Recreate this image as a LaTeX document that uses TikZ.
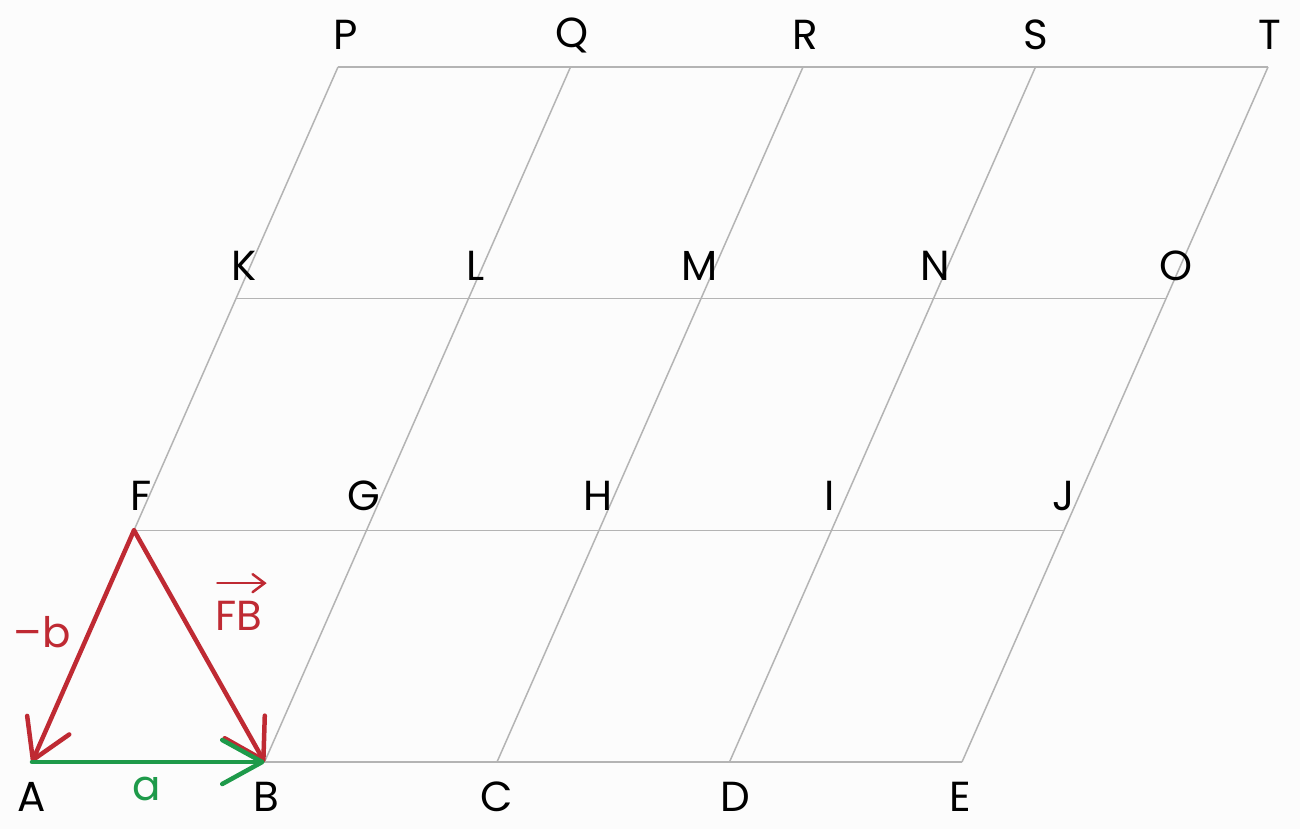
\documentclass[tikz,border=0pt]{standalone}
\usepackage{fontspec}
\setmainfont{Poppins}
\usetikzlibrary{arrows.meta}
\definecolor{bg}{HTML}{FCFCFC}
\definecolor{gridc}{HTML}{B4B4B4}
\definecolor{vred}{HTML}{BF2A33}
\definecolor{vgreen}{HTML}{1E9A4A}
\tikzset{
  gridline/.style={draw=gridc, line width=1.5pt},
  vec/.style={line width=4.5pt, line cap=round, line join=round},
  lbl/.style={inner sep=0pt, font=\fontsize{42}{48}\selectfont},
}
\begin{document}
\begin{tikzpicture}[x=1pt,y=-1pt]
\fill[bg] (0,0) rectangle (1300,829);
\useasboundingbox (0,0) rectangle (1300,829);
% grid points
\coordinate (A) at (32,762);   \coordinate (B) at (264.5,762); \coordinate (C) at (497,762);   \coordinate (D) at (729.5,762); \coordinate (E) at (962,762);
\coordinate (F) at (134,530.3);\coordinate (G) at (366.5,530.3);\coordinate (H) at (599,530.3);\coordinate (I) at (831.5,530.3);\coordinate (J) at (1064,530.3);
\coordinate (K) at (236,298.6);\coordinate (L) at (468.5,298.6);\coordinate (M) at (701,298.6);\coordinate (N) at (933.5,298.6);\coordinate (O) at (1166,298.6);
\coordinate (P) at (338,67);   \coordinate (Q) at (570.5,67);  \coordinate (R) at (803,67);   \coordinate (S) at (1035.5,67); \coordinate (T) at (1268,67);
% grid lines
\draw[gridline] (A) -- (E);
\draw[gridline] (F) -- (J);
\draw[gridline] (K) -- (O);
\draw[gridline] (P) -- (T);
\draw[gridline] (A) -- (F) -- (K) -- (P);
\draw[gridline] (B) -- (G) -- (L) -- (Q);
\draw[gridline] (C) -- (H) -- (M) -- (R);
\draw[gridline] (D) -- (I) -- (N) -- (S);
\draw[gridline] (E) -- (J) -- (O) -- (T);
% vectors
\draw[vec, vred, -{Straight Barb[length=38pt,width=46pt,line cap=round,line join=round]}] (F) -- (A);
\draw[vec, vred, -{Straight Barb[length=38pt,width=46pt,line cap=round,line join=round]}] (F) -- (B);
\draw[vec, vgreen, -{Straight Barb[length=40pt,width=44pt,line cap=round,line join=round]}] (A) -- (B);
% point labels
\node[lbl] (lP) at (346,35) {P};
\node[lbl] (lQ) at (572,35) {Q};
\node[lbl] (lR) at (805,35) {R};
\node[lbl] (lS) at (1036,35) {S};
\node[lbl] (lT) at (1270,35) {T};
\node[lbl] (lK) at (244,266) {K};
\node[lbl] (lL) at (476,266) {L};
\node[lbl] (lM) at (700,266) {M};
\node[lbl] (lN) at (935,266) {N};
\node[lbl] (lO) at (1176,266) {O};
\node[lbl] (lF) at (141,496) {F};
\node[lbl] (lG) at (364,496) {G};
\node[lbl] (lH) at (598,496) {H};
\node[lbl] (lI) at (830,496) {I};
\node[lbl] (lJ) at (1064,496) {J};
\node[lbl] (lA) at (32,797) {A};
\node[lbl] (lB) at (266,797) {B};
\node[lbl] (lC) at (497,797) {C};
\node[lbl] (lD) at (735,797) {D};
\node[lbl] (lE) at (960,797) {E};
% vector labels
\node[lbl, text=vred] (lb) at (42,632) {–b};
\node[lbl, text=vred] (lFB) at (239,616) {FB};
\draw[vred, line width=2.5pt, line cap=round, -{Straight Barb[length=12pt,width=18pt,line cap=round]}] ([yshift=18pt,xshift=2pt]lFB.north west) -- ([yshift=18pt,xshift=4pt]lFB.north east);
\node[lbl, text=vgreen] (la) at (147,789) {a};
\end{tikzpicture}
\end{document}
